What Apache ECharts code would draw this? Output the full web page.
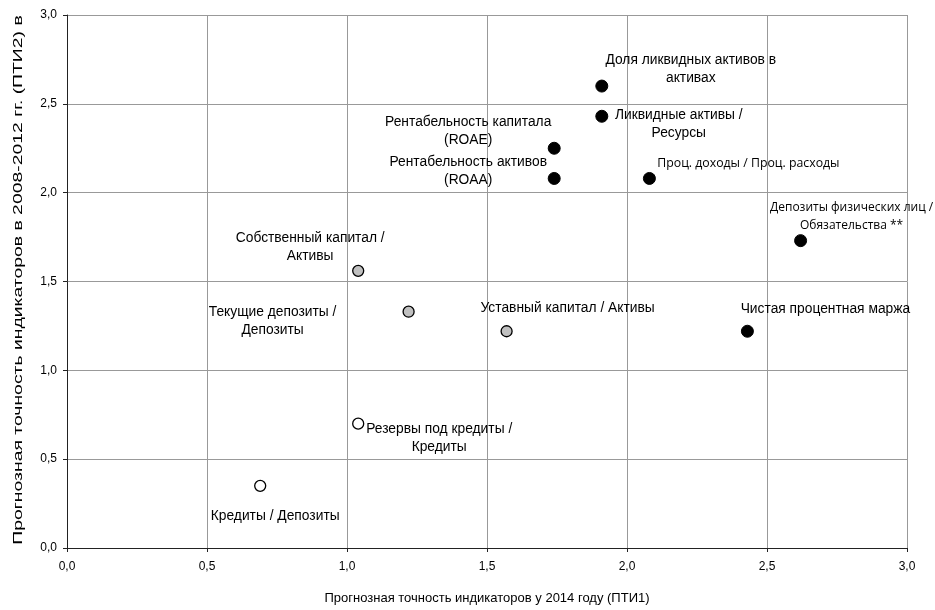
<!DOCTYPE html>
<html><head><meta charset="utf-8">
<script src="https://cdn.jsdelivr.net/npm/echarts@6/dist/echarts.min.js"></script>
<style>html,body{margin:0;padding:0;background:#fff}#c{width:935px;height:610px}</style>
</head><body><div id="c"></div>
<script>
// Data
const blackNames = ['Доля ликвидных активов в\nактивах','Ликвидные активы /\nРесурсы','Рентабельность капитала\n(ROAE)','Рентабельность активов\n(ROAA)','Проц. доходы / Проц. расходы','Депозиты физических лиц /\nОбязательства **','Чистая процентная маржа'];
const blackX = [1.91, 1.91, 1.74, 1.74, 2.08, 2.62, 2.43];
const blackY = [2.60, 2.43, 2.25, 2.08, 2.08, 1.73, 1.22];
const greyNames = ['Собственный капитал /\nАктивы','Текущие депозиты /\nДепозиты','Уставный капитал / Активы'];
const greyX = [1.04, 1.22, 1.57];
const greyY = [1.56, 1.33, 1.22];
const whiteNames = ['Резервы под кредиты /\nКредиты','Кредиты / Депозиты'];
const whiteX = [1.04, 0.69];
const whiteY = [0.70, 0.35];
const ticks = [0, 0.5, 1.0, 1.5, 2.0, 2.5, 3.0];
const xTitle = 'Прогнозная точность индикаторов у 2014 году (ПТИ1)';
const yTitle = 'Прогнозная точность индикаторов в 2008-2012 гг. (ПТИ2) в';

// Label layout (style only)
const blackOff = [[89,-17],[77,8],[-86,-17],[-86,-7],[99,-15],[51,-24],[78,-22]];
const blackFont = ['Liberation Sans','Liberation Sans','Liberation Sans','Liberation Sans','Open Sans','Open Sans','Liberation Sans'];
const blackSize = [13.8,13.8,13.8,13.8,12.3,12,13.8];
const greyOff = [[-48,-24],[-136,9],[61,-23]];
const whiteOff = [[81,15],[15,30]];

function mk(names, xs, ys, offs, fonts, sizes) {
  return names.map((n,i)=>({
    name:n, value:[xs[i], ys[i]],
    label:{show:true, formatter:n, position:'inside', offset:offs[i],
      fontFamily: fonts ? fonts[i] : 'Liberation Sans', fontSize: sizes ? sizes[i] : 13.8,
      color:'#000', lineHeight: 18, align:'center', verticalAlign:'middle', textBorderWidth:0}
  }));
}
const fmt = v => v.toFixed(1).replace('.', ',');
const chart = echarts.init(document.getElementById('c'));
chart.setOption({
  animation:false,
  grid:{left:67, right:28, top:15, bottom:62},
  graphic:[{type:'text', x:18, y:280, rotation:Math.PI/2, scaleX:1.49,
    style:{text:yTitle, font:'13px "Liberation Sans"', fill:'#000', textAlign:'center', textVerticalAlign:'middle'}}],
  xAxis:{type:'value', min:0, max:3, interval:0.5,
    axisLine:{lineStyle:{color:'#222'}}, axisTick:{show:true, length:4, lineStyle:{color:'#222'}},
    splitLine:{lineStyle:{color:'#999'}},
    axisLabel:{formatter:fmt, color:'#000', fontFamily:'Liberation Sans', fontSize:12, margin:13},
    name:xTitle, nameLocation:'middle', nameGap:44,
    nameTextStyle:{fontFamily:'Liberation Sans', fontSize:13, color:'#000'}},
  yAxis:{type:'value', min:0, max:3, interval:0.5,
    axisLine:{show:true, lineStyle:{color:'#222'}}, axisTick:{show:true, length:4, lineStyle:{color:'#222'}},
    splitLine:{lineStyle:{color:'#999'}},
    axisLabel:{formatter:fmt, color:'#000', fontFamily:'Liberation Sans', fontSize:12, margin:10}},
  series:[
    {type:'scatter', symbolSize:12, itemStyle:{color:'#000', borderColor:'#000', borderWidth:1, opacity:1},
      data:mk(blackNames, blackX, blackY, blackOff, blackFont, blackSize), z:3},
    {type:'scatter', symbolSize:11, itemStyle:{color:'#c0c0c0', borderColor:'#000', borderWidth:1.3, opacity:1},
      data:mk(greyNames, greyX, greyY, greyOff), z:3},
    {type:'scatter', symbolSize:11, itemStyle:{color:'#fff', borderColor:'#000', borderWidth:1.3, opacity:1},
      data:mk(whiteNames, whiteX, whiteY, whiteOff), z:3}
  ]
});
</script></body></html>
